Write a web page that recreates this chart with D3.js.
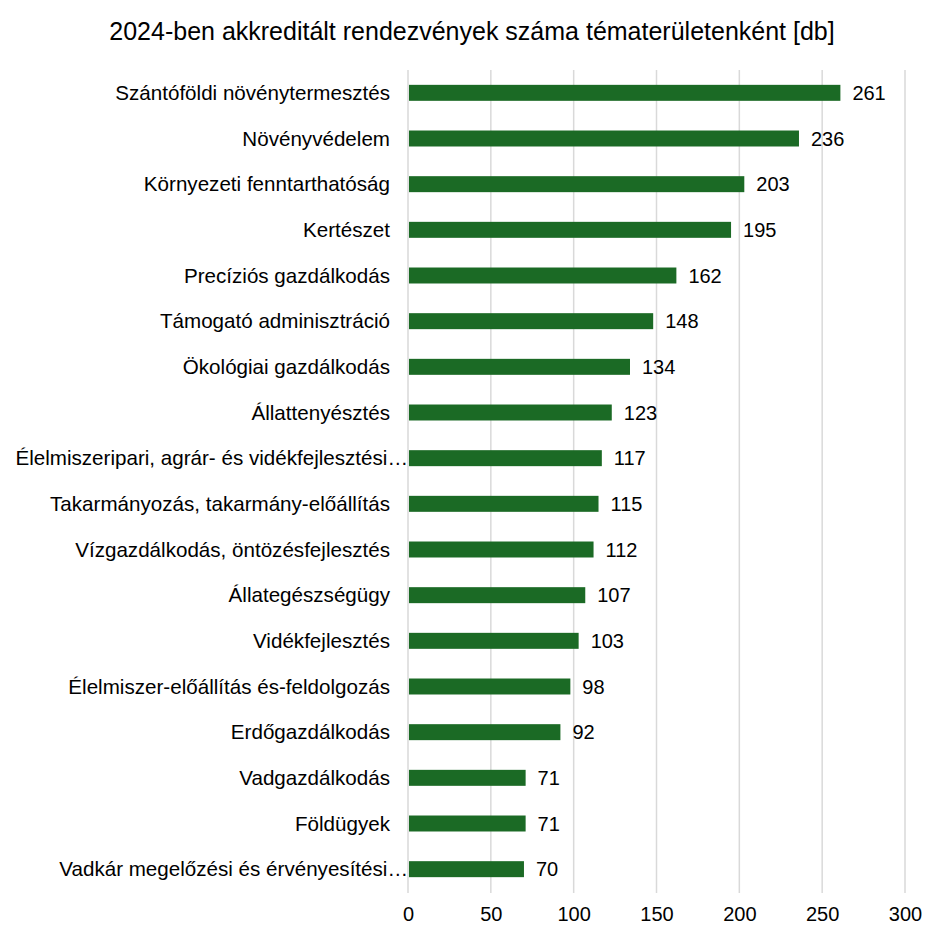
<!DOCTYPE html>
<html><head><meta charset="utf-8">
<script src="https://cdn.jsdelivr.net/npm/d3@7"></script>
<style>body{margin:0;background:#fff}svg{display:block;font-family:"Liberation Sans",Arial,sans-serif}</style>
</head><body>
<svg id="c" width="945" height="942"></svg>
<script>
const categories = ["Szántóföldi növénytermesztés","Növényvédelem","Környezeti fenntarthatóság","Kertészet","Precíziós gazdálkodás","Támogató adminisztráció","Ökológiai gazdálkodás","Állattenyésztés","Élelmiszeripari, agrár- és vidékfejlesztési…","Takarmányozás, takarmány-előállítás","Vízgazdálkodás, öntözésfejlesztés","Állategészségügy","Vidékfejlesztés","Élelmiszer-előállítás és-feldolgozás","Erdőgazdálkodás","Vadgazdálkodás","Földügyek","Vadkár megelőzési és érvényesítési…"];
const values = [261,236,203,195,162,148,134,123,117,115,112,107,103,98,92,71,71,70];
const xTicks = [0,50,100,150,200,250,300];
const title = "2024-ben akkreditált rendezvények száma tématerületenként [db]";

const svg = d3.select("#c");
const x = d3.scaleLinear().domain([0,300]).range([408,905]);
const y = d3.scaleBand().domain(categories).range([70,892]).paddingInner(0.65).paddingOuter(0.325);

svg.append("g").selectAll("line").data(xTicks).join("line")
  .attr("x1",d=>x(d)).attr("x2",d=>x(d)).attr("y1",70).attr("y2",893)
  .attr("stroke","#d9d9d9").attr("stroke-width",1.5);

svg.append("g").selectAll("rect").data(values).join("rect")
  .attr("x",x(0)+1).attr("y",(d,i)=>y(categories[i]))
  .attr("width",d=>x(d)-x(0)-1).attr("height",y.bandwidth())
  .attr("fill","#1b6a25");

svg.append("g").selectAll("text").data(values).join("text")
  .attr("x",d=>x(d)+12).attr("y",(d,i)=>y(categories[i])+y.bandwidth()/2)
  .attr("dy","0.35em").attr("font-size",20).attr("fill","#000").text(d=>d);

svg.append("g").selectAll("text").data(categories).join("text")
  .attr("x",d=>d.endsWith("…")?x(0):390).attr("y",d=>y(d)+y.bandwidth()/2)
  .attr("dy","0.35em").attr("text-anchor","end").attr("font-size",20.6).attr("fill","#000").text(d=>d);

const xAxis = d3.axisBottom(x).tickValues(xTicks).tickSize(0).tickPadding(0);
const ax = svg.append("g").attr("transform","translate(0,914)").call(xAxis);
ax.select(".domain").remove();
ax.selectAll("text").attr("font-size",20).attr("fill","#000").attr("font-family","Liberation Sans, Arial, sans-serif").attr("dy","0.35em");

svg.append("text").attr("x",472).attr("y",31).attr("dy","0.35em").attr("text-anchor","middle")
  .attr("font-size",25).attr("fill","#000").text(title);
</script>
</body></html>
